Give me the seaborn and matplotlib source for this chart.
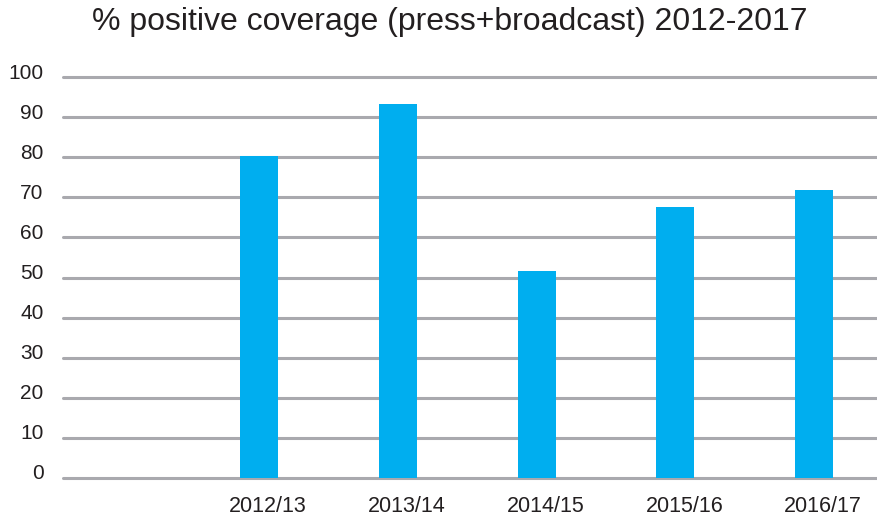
import matplotlib
matplotlib.use("Agg")
import matplotlib.pyplot as plt
import matplotlib.transforms as mtransforms
import seaborn as sns
import pandas as pd

# Share of positive coverage per year
years = ["2012/13", "2013/14", "2014/15", "2015/16", "2016/17"]
positive_pct = [80.3, 93.3, 51.7, 67.6, 71.7]
y_ticks = [0, 10, 20, 30, 40, 50, 60, 70, 80, 90, 100]

df = pd.DataFrame({"year": years, "pct": positive_pct})

sns.set_theme(style="white")
plt.rcParams["font.family"] = ["Liberation Sans", "DejaVu Sans"]

fig = plt.figure(figsize=(8.77, 5.19), dpi=100)
ax = fig.add_axes([0.0718, 0.0790, 0.9282, 0.7726])

sns.barplot(data=df, x="year", y="pct", color="#00AEEF", saturation=1,
            width=0.274, linewidth=0, edgecolor="none", ax=ax, zorder=3)

ax.set_ylim(0, 100)
ax.set_xlim(-1.413, 4.454)
ax.set_yticks(y_ticks)
ax.set_yticklabels([str(t) for t in y_ticks])
for t in y_ticks:
    ax.axhline(t, color="#a9a9ae", lw=2.2, zorder=1, clip_on=False)

for s in ax.spines.values():
    s.set_visible(False)
ax.tick_params(axis="y", length=0, pad=14, labelsize=15, labelcolor="#231f20")
ax.tick_params(axis="x", length=0, pad=13, labelsize=15.5, labelcolor="#231f20")
ax.set_xlabel("")
ax.set_ylabel("")

yshift = mtransforms.ScaledTranslation(0, 6 / 100, fig.dpi_scale_trans)
for lab in ax.get_yticklabels():
    lab.set_transform(lab.get_transform() + yshift)
xshift = mtransforms.ScaledTranslation(9 / 100, 0, fig.dpi_scale_trans)
for lab in ax.get_xticklabels():
    lab.set_transform(lab.get_transform() + xshift)

fig.text(0.513, 0.957, "% positive coverage (press+broadcast) 2012-2017",
         ha="center", va="center", fontsize=23, color="#231f20")

fig.savefig("out.png", dpi=100)
